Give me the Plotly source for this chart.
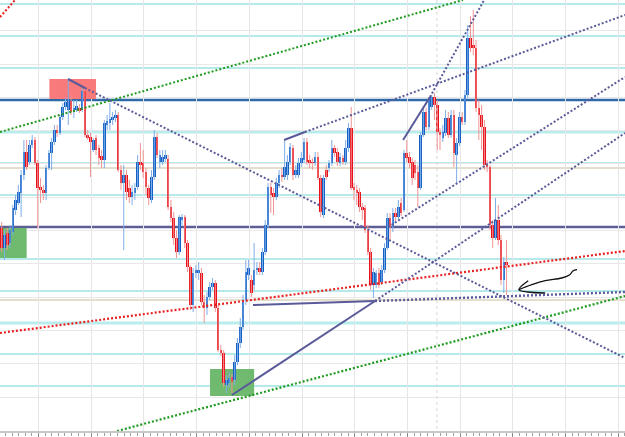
import plotly.graph_objects as go

# ---------------- data (levels measured from the chart top; y axis reversed) -------------
open_ = [
    228, 248, 233, 243, 232, 210, 203, 193, 175, 152,
    162, 145, 140, 163, 187, 190, 193, 168, 153, 142,
    130, 133, 117, 107, 110, 101, 112, 110, 108, 110,
    91, 135, 137, 150, 138, 148, 156, 160, 125, 123,
    120, 118, 115, 170, 183, 175, 188, 197, 193, 187,
    162, 163, 172, 188, 200, 177, 137, 162, 162, 159,
    159, 207, 218, 238, 252, 220, 217, 243, 267, 305,
    273, 273, 273, 302, 308, 297, 287, 283, 308, 350,
    353, 385, 383, 377, 380, 362, 343, 327, 300, 275,
    280, 285, 270, 268, 272, 252, 225, 187, 193, 197,
    183, 175, 177, 175, 162, 148, 175, 175, 163, 160,
    142, 160, 162, 163, 157, 178, 215, 170, 168, 163,
    148, 152, 163, 158, 162, 148, 128, 187, 190, 192,
    207, 208, 230, 252, 285, 285, 273, 282, 270, 248,
    218, 227, 213, 217, 203, 210, 153, 157, 162, 165,
    172, 188, 135, 112, 127, 107, 97, 105, 132, 138,
    133, 118, 135, 115, 155, 143, 117, 122, 95, 38,
    45, 48, 108, 115, 127, 165, 167, 225, 238, 220,
    240, 280, 262]
close_ = [
    248, 235, 245, 230, 208, 200, 192, 175, 152, 167,
    145, 140, 163, 188, 190, 193, 168, 153, 142, 130,
    133, 117, 107, 102, 100, 112, 108, 106, 111, 91,
    135, 138, 142, 140, 150, 158, 160, 123, 121, 119,
    117, 115, 170, 183, 175, 192, 197, 192, 188, 162,
    165, 172, 187, 198, 177, 137, 155, 155, 157, 155,
    207, 218, 238, 252, 217, 217, 243, 267, 305, 273,
    270, 270, 302, 308, 297, 287, 283, 308, 350, 353,
    383, 380, 378, 382, 362, 343, 327, 300, 272, 268,
    293, 270, 268, 272, 252, 225, 187, 195, 197, 183,
    175, 177, 167, 162, 147, 175, 170, 163, 158, 142,
    162, 163, 163, 157, 178, 212, 178, 177, 163, 148,
    153, 162, 157, 162, 148, 128, 188, 190, 193, 207,
    210, 230, 252, 285, 272, 273, 285, 270, 248, 218,
    227, 213, 217, 207, 213, 153, 158, 163, 178, 173,
    188, 135, 112, 127, 100, 97, 105, 132, 135, 132,
    118, 135, 115, 153, 143, 117, 122, 95, 38, 48,
    48, 108, 115, 127, 165, 167, 225, 238, 220, 240,
    280, 262, 265]
wick_top = [
    222, 230, 228, 225, 205, 195, 185, 170, 140, 140,
    140, 135, 137, 160, 178, 185, 165, 150, 138, 125,
    125, 115, 103, 98, 79, 95, 100, 100, 104, 88,
    89, 130, 133, 138, 135, 145, 150, 120, 115, 103,
    112, 110, 112, 165, 165, 170, 180, 185, 183, 155,
    143, 150, 168, 185, 170, 130, 133, 150, 150, 150,
    155, 200, 212, 230, 215, 214, 215, 240, 265, 268,
    265, 262, 268, 295, 292, 282, 278, 280, 305, 345,
    350, 375, 372, 374, 355, 338, 318, 295, 260, 260,
    275, 243, 262, 262, 248, 220, 183, 183, 188, 178,
    170, 168, 140, 155, 143, 145, 165, 158, 152, 138,
    138, 155, 158, 152, 152, 175, 175, 165, 160, 140,
    145, 148, 153, 155, 140, 123, 107, 183, 185, 188,
    203, 205, 225, 248, 268, 270, 268, 265, 243, 213,
    213, 208, 208, 200, 198, 150, 140, 152, 158, 160,
    165, 132, 108, 108, 97, 95, 93, 100, 128, 125,
    110, 112, 110, 110, 138, 112, 112, 90, 25, 16,
    10, 40, 100, 105, 120, 160, 165, 220, 198, 205,
    235, 257, 240]
wick_bottom = [
    252, 260, 250, 248, 235, 215, 205, 217, 180, 170,
    165, 148, 165, 228, 203, 200, 200, 170, 170, 145,
    137, 135, 120, 110, 125, 115, 118, 112, 113, 112,
    137, 140, 177, 152, 155, 165, 168, 168, 130, 130,
    125, 122, 172, 190, 250, 200, 203, 205, 200, 190,
    170, 178, 195, 205, 203, 180, 158, 168, 165, 162,
    210, 222, 245, 258, 255, 225, 248, 272, 310, 312,
    278, 280, 305, 323, 315, 300, 290, 312, 352, 356,
    387, 393, 388, 393, 385, 365, 348, 330, 305, 280,
    297, 290, 275, 275, 275, 255, 228, 213, 215, 200,
    188, 182, 180, 180, 165, 180, 178, 178, 167, 163,
    165, 168, 170, 166, 180, 217, 218, 180, 172, 166,
    157, 166, 166, 165, 165, 152, 190, 200, 205, 212,
    220, 233, 255, 290, 298, 288, 288, 285, 273, 250,
    240, 232, 222, 220, 216, 212, 162, 168, 185, 180,
    207, 190, 137, 130, 130, 110, 120, 150, 150, 142,
    136, 138, 138, 167, 183, 146, 125, 125, 98, 52,
    55, 112, 140, 150, 170, 172, 230, 248, 240, 245,
    285, 293, 295]
candle_idx = list(range(len(open_)))

# horizontal levels
cyan_levels = [4, 36, 68, 163, 195, 259, 291, 354, 386]
pale_cyan_levels = [132, 323]
steel_levels = [100]
slate_levels = [227]
tan_levels = [168, 300]

# trend lines (candle index, level)
green_up_x, green_up_y = [-0.61, 166.3], [132, 0]
red_top_x, red_top_y = [-0.61, 4.8], [17, 0]
red_low_x, red_low_y = [-0.61, 224.7], [333, 251]
green_low_x, green_low_y = [41.6, 224.7], [431, 296]
desc_solid_x, desc_solid_y = [23.9, 30.0], [79, 88]
desc_dot_x, desc_dot_y = [30.0, 224.7], [88, 358]
ch1_solid_x, ch1_solid_y = [101.8, 109.3], [140, 132]
ch1_dot_x, ch1_dot_y = [109.3, 224.7], [132, 15]
steep_solid_x, steep_solid_y = [144.7, 154.4], [140, 97]
steep_dot_x, steep_dot_y = [154.4, 173.9], [97, 0]
ch3_dot_x, ch3_dot_y = [139.3, 224.7], [227, 77]
rise_solid_x, rise_solid_y = [83.0, 134.6], [395, 301]
rise_dot_x, rise_dot_y = [134.6, 224.7], [301, 133]
flat_solid_x, flat_solid_y = [90.6, 134.6], [305, 301]
flat_dot_x, flat_dot_y = [134.6, 224.7], [301, 292]

# boxes (x0, x1, y0, y1)
red_box = [17.2, 34.0, 79, 99]
green_box_left = [-0.61, 9.0, 228, 258]
green_box_low = [75.1, 91.0, 369, 396]

separator_x = [156.9]

arrow_x = [207.4, 205.9, 204.8, 201.9, 195.9, 191.1, 186.4]
arrow_y = [269.7, 271, 274.7, 278, 280.7, 284.7, 289.7]
head_x = [189.8, 186.4, 189.6, 195.9]
head_y = [280.7, 289.7, 292, 293]

# ---------------- figure ----------------
fig = go.Figure()

BLUE, RED = "#1560c4", "#e8101a"
WBLUE, WRED = "#7eaee8", "#f29494"
PURPLE = "#5a5a9a"

fig.add_trace(go.Scatter(x=[separator_x[0], separator_x[0]], y=[0, 431], mode="lines",
                         line=dict(color="#d6d6d6", width=1, dash="dot"), hoverinfo="skip"))

wbx, wby, wrx, wry = [], [], [], []
heights, colors = [], []
for i, o, c, t, b in zip(candle_idx, open_, close_, wick_top, wick_bottom):
    bull = c < o
    if bull:
        wbx += [i, i, None]
        wby += [t, b, None]
    else:
        wrx += [i, i, None]
        wry += [t, b, None]
    h = c - o
    if h == 0:
        h = 1
    heights.append(h)
    colors.append(BLUE if bull else RED)

fig.add_trace(go.Scatter(x=wbx, y=wby, mode="lines", line=dict(color=WBLUE, width=1), hoverinfo="skip"))
fig.add_trace(go.Scatter(x=wrx, y=wry, mode="lines", line=dict(color=WRED, width=1), hoverinfo="skip"))
fig.add_trace(go.Bar(x=candle_idx, y=heights, base=open_, width=0.92, opacity=1,
                     marker=dict(color=colors, opacity=1, line=dict(width=0)), hoverinfo="skip"))

def line(x, y, color, width=2, dash=None):
    fig.add_trace(go.Scatter(x=x, y=y, mode="lines",
                             line=dict(color=color, width=width, dash=dash), hoverinfo="skip"))

DOT = "2px,2px"
line(green_up_x, green_up_y, "#1e9a1e", 2, DOT)
line(red_top_x, red_top_y, "#e82020", 2, DOT)
line(red_low_x, red_low_y, "#e82020", 2.2, DOT)
line(green_low_x, green_low_y, "#1e9a1e", 2.2, DOT)
line(desc_solid_x, desc_solid_y, PURPLE, 2)
line(desc_dot_x, desc_dot_y, PURPLE, 2, DOT)
line(ch1_solid_x, ch1_solid_y, PURPLE, 2)
line(ch1_dot_x, ch1_dot_y, PURPLE, 2, DOT)
line(steep_solid_x, steep_solid_y, PURPLE, 2)
line(steep_dot_x, steep_dot_y, PURPLE, 2, DOT)
line(ch3_dot_x, ch3_dot_y, PURPLE, 2, DOT)
line(rise_solid_x, rise_solid_y, PURPLE, 2)
line(rise_dot_x, rise_dot_y, PURPLE, 2, DOT)
line(flat_solid_x, flat_solid_y, PURPLE, 2)
line(flat_dot_x, flat_dot_y, PURPLE, 2.4, DOT)

fig.add_trace(go.Scatter(x=arrow_x, y=arrow_y, mode="lines",
                         line=dict(color="#111111", width=1.3, shape="spline"), hoverinfo="skip"))
fig.add_trace(go.Scatter(x=head_x, y=head_y, mode="lines",
                         line=dict(color="#111111", width=1.3, shape="spline"), hoverinfo="skip"))

shapes = []
def hline(y, color, width):
    shapes.append(dict(type="line", xref="paper", x0=0, x1=1, yref="y", y0=y, y1=y,
                       line=dict(color=color, width=width), layer="between"))

for yv in pale_cyan_levels:
    hline(yv, "#b9ecec", 3)
for yv in cyan_levels:
    hline(yv, "#6fd6d6", 1.2)
for yv in tan_levels:
    hline(yv, "#c9bf9a", 1.2)
for yv in steel_levels:
    hline(yv, "#2f6aa8", 2.6)
for yv in slate_levels:
    hline(yv, "#5e5e96", 2.6)

def box(b, color):
    shapes.append(dict(type="rect", xref="x", yref="y", x0=b[0], x1=b[1], y0=b[2], y1=b[3],
                       fillcolor=color, line=dict(width=0), layer="between"))

box(red_box, "rgb(248,122,122)")
box(green_box_left, "rgb(112,186,112)")
box(green_box_low, "rgb(112,186,112)")

fig.update_layout(
    width=625, height=437,
    margin=dict(l=0, r=0, t=0, b=6),
    paper_bgcolor="white", plot_bgcolor="white",
    showlegend=False, barmode="group", bargap=0,
    shapes=shapes,
    xaxis=dict(range=[-0.613, 224.69], showgrid=True, gridcolor="#e6e6e6", gridwidth=1,
               tick0=13.27, dtick=19, ticks="outside", ticklen=5, tickcolor="#8c8c8c",
               showticklabels=False, showline=True, linecolor="#c8c8c8", linewidth=2,
               zeroline=False, fixedrange=True,
               minor=dict(ticks="outside", ticklen=3, tickcolor="#a0a0a0",
                          tick0=13.27, dtick=19 / 8, showgrid=False)),
    yaxis=dict(range=[431, 0], showgrid=True, gridcolor="#e8e8e8", gridwidth=1,
               tick0=30.7, dtick=33.3, showticklabels=False, zeroline=False,
               ticks="", fixedrange=True),
)

fig.write_html("out.html")
